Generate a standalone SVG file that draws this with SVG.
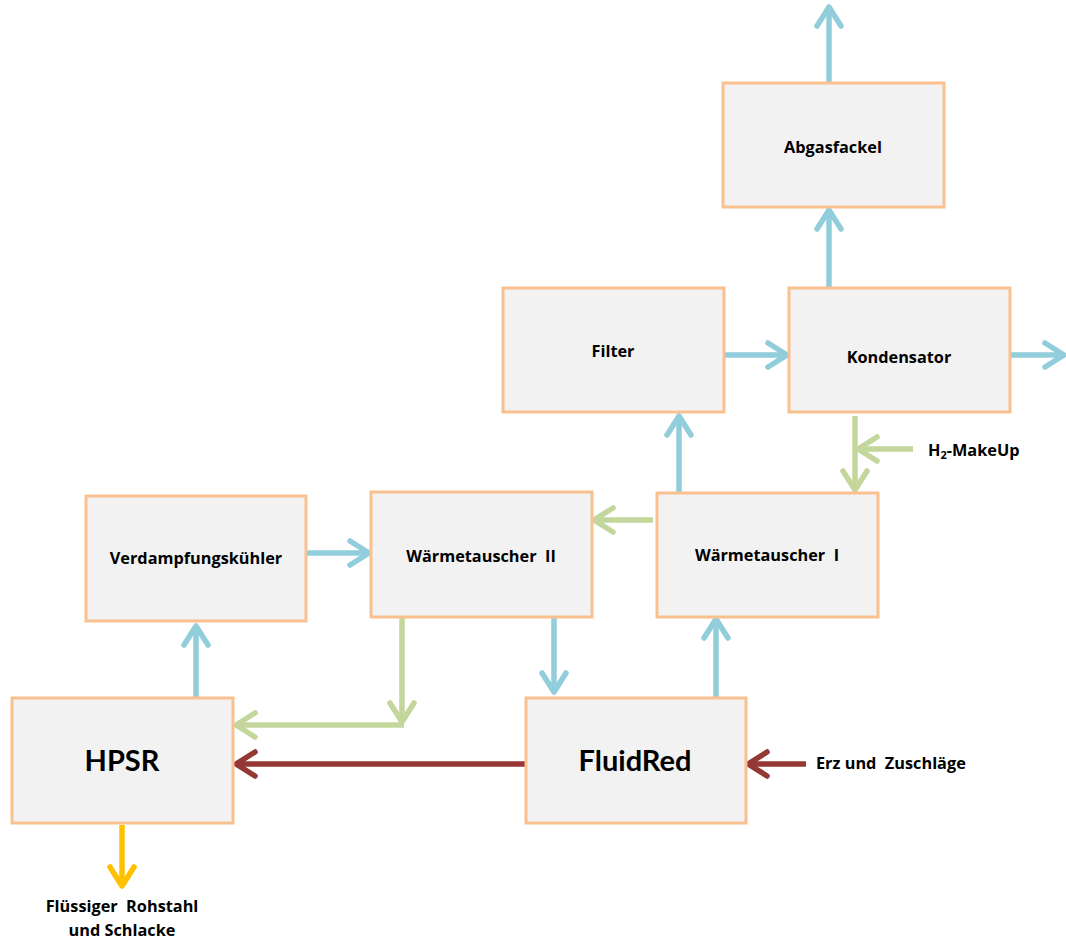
<svg xmlns="http://www.w3.org/2000/svg" width="1066" height="939" viewBox="0 0 1066 939">
<style>
.box{fill:#F2F2F2;stroke:#FAC090;stroke-width:3}
.t{font-family:"Open Sans",Lato,"Liberation Sans",sans-serif;font-weight:bold;font-size:16.3px;fill:#000;text-anchor:middle;dominant-baseline:central}
.big{font-family:Lato,"Open Sans","Liberation Sans",sans-serif;font-size:29px}
.lbl{text-anchor:start}
.c{fill:none;stroke-width:5.5;stroke-linejoin:round}
.b{stroke:#92CDDC;marker-end:url(#mb)}
.g{stroke:#C3D69B;marker-end:url(#mg)}
.r{stroke:#953735;marker-end:url(#mr)}
.y{stroke:#FFC000;marker-end:url(#my)}
</style>
<defs>
<marker id="mb" markerUnits="userSpaceOnUse" orient="auto" refX="-2" refY="0" markerWidth="40" markerHeight="40" viewBox="-25 -20 30 40" overflow="visible"><path d="M-19,-12 L0,0 L-19,12" fill="none" stroke="#92CDDC" stroke-width="5.5" stroke-linecap="round" stroke-linejoin="round"/></marker>
<marker id="mg" markerUnits="userSpaceOnUse" orient="auto" refX="-2" refY="0" markerWidth="40" markerHeight="40" viewBox="-25 -20 30 40" overflow="visible"><path d="M-19,-12 L0,0 L-19,12" fill="none" stroke="#C3D69B" stroke-width="5.5" stroke-linecap="round" stroke-linejoin="round"/></marker>
<marker id="mr" markerUnits="userSpaceOnUse" orient="auto" refX="-2" refY="0" markerWidth="40" markerHeight="40" viewBox="-25 -20 30 40" overflow="visible"><path d="M-19,-12 L0,0 L-19,12" fill="none" stroke="#953735" stroke-width="5.5" stroke-linecap="round" stroke-linejoin="round"/></marker>
<marker id="my" markerUnits="userSpaceOnUse" orient="auto" refX="-2" refY="0" markerWidth="40" markerHeight="40" viewBox="-25 -20 30 40" overflow="visible"><path d="M-19,-12 L0,0 L-19,12" fill="none" stroke="#FFC000" stroke-width="5.5" stroke-linecap="round" stroke-linejoin="round"/></marker>
</defs>
<rect width="1066" height="939" fill="#fff"/>
<g id="connectors">
<path class="c b" d="M829,82 V9"/>
<path class="c b" d="M829,288 V212"/>
<path class="c b" d="M724,355 H785"/>
<path class="c b" d="M1010,355 H1062"/>
<path class="c g" d="M855,416 V488"/>
<path class="c g" d="M913,449 H860"/>
<path class="c b" d="M679,492 V418"/>
<path class="c g" d="M653,520 H596"/>
<path class="c b" d="M306,553 H367"/>
<path class="c b" d="M554,617 V690"/>
<path class="c g" d="M402,617 V720"/>
<path class="c g" d="M404,725 H238"/>
<path class="c b" d="M196,698 V628"/>
<path class="c b" d="M716,698 V621"/>
<path class="c r" d="M526,764 H238"/>
<path class="c r" d="M806,764 H750"/>
<path class="c y" d="M122,825 V884"/>
</g>
<g id="abgasfackel"><rect class="box" x="723" y="83" width="221" height="124"/><text class="t" x="833" y="147">Abgasfackel</text></g>
<g id="filter"><rect class="box" x="503" y="288" width="221" height="124"/><text class="t" x="613" y="351">Filter</text></g>
<g id="kondensator"><rect class="box" x="789" y="288" width="221" height="124"/><text class="t" x="899" y="357">Kondensator</text></g>
<g id="waermetauscher1"><rect class="box" x="657" y="493" width="221" height="124"/><text class="t" x="767" y="555" xml:space="preserve">Wärmetauscher  I</text></g>
<g id="waermetauscher2"><rect class="box" x="371" y="492" width="221" height="125"/><text class="t" x="481" y="556" xml:space="preserve">Wärmetauscher  II</text></g>
<g id="verdampfungskuehler"><rect class="box" x="86" y="496" width="220" height="125"/><text class="t" x="196" y="558">Verdampfungskühler</text></g>
<g id="hpsr"><rect class="box" x="12" y="698" width="221" height="125"/><text class="t big" x="122" y="759">HPSR</text></g>
<g id="fluidred"><rect class="box" x="526" y="698" width="220" height="125"/><text class="t big" x="635" y="759">FluidRed</text></g>
<g id="labels">
<text class="t lbl" x="928" y="450">H<tspan font-size="11" dy="4">2</tspan><tspan dy="-4">-MakeUp</tspan></text>
<text class="t lbl" x="816" y="763" xml:space="preserve">Erz und  Zuschläge</text>
<text class="t" x="122" y="906" xml:space="preserve">Flüssiger  Rohstahl</text>
<text class="t" x="122" y="930">und Schlacke</text>
</g>
</svg>
